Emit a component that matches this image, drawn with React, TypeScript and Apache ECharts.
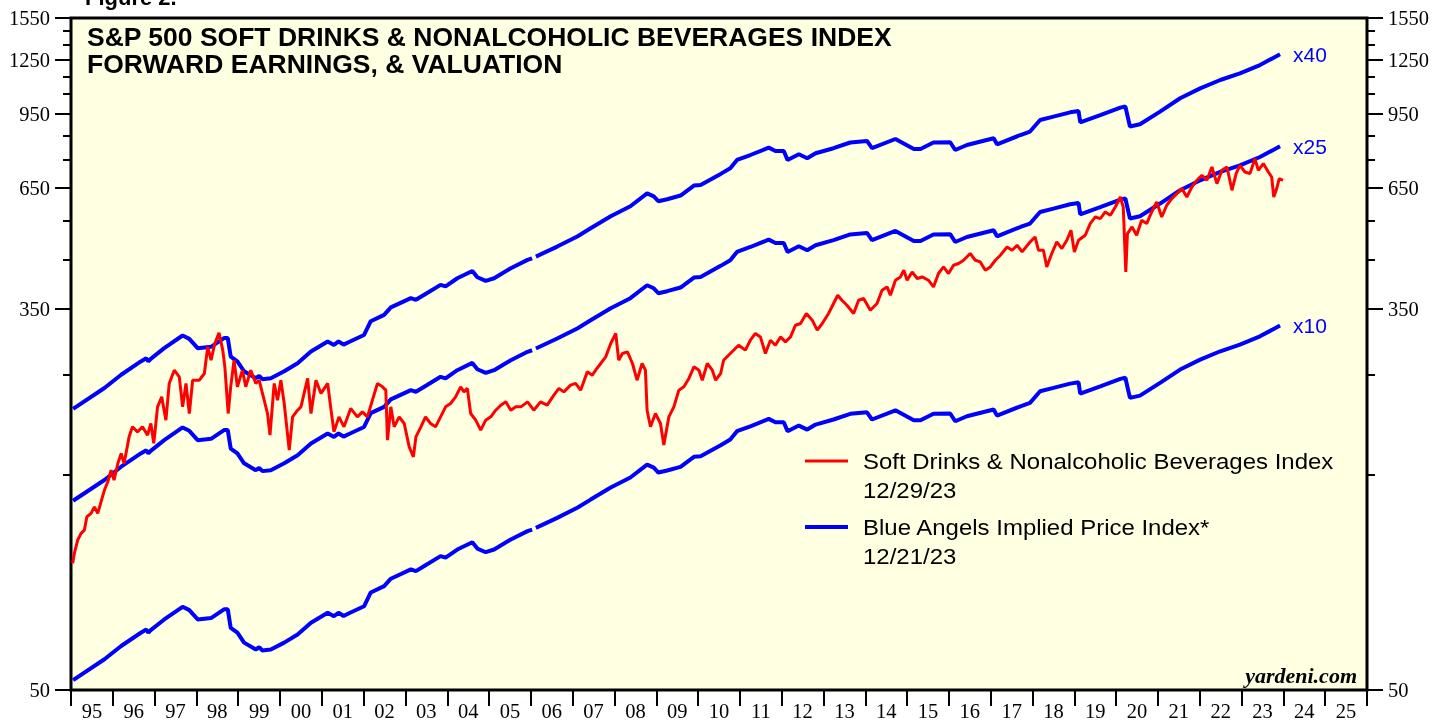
import React, { useEffect, useRef } from "react";
import * as echarts from "echarts";

// ---- tick labels / categories ----
const yearLabels = [
  "95", "96", "97", "98", "99", "00", "01", "02", "03", "04", "05", "06", "07", "08", "09", "10",
  "11", "12", "13", "14", "15", "16", "17", "18", "19", "20", "21", "22", "23", "24", "25",
];
const majorTicks = [50, 350, 650, 950, 1250, 1550];
const minorTicks = [50, 150, 250, 350, 450, 550, 650, 750, 850, 950, 1050, 1150, 1250, 1350, 1450, 1550];
const multiples = [40, 25, 10];

// ---- forward earnings (Blue Angels base), [year, earnings] ----
const forwardEarnings: [number, number | null][] = [
  [1995.05, 5.26], [1995.8, 5.85], [1996.2, 6.26], [1996.67, 6.7], [1996.8, 6.81], [1996.85, 6.7], [1996.9, 6.78],
  [1997.23, 7.17], [1997.67, 7.65], [1997.83, 7.52], [1998.03, 7.17], [1998.35, 7.22], [1998.66, 7.55], [1998.75, 7.55],
  [1998.82, 6.87], [1998.98, 6.7], [1999.14, 6.37], [1999.42, 6.15], [1999.5, 6.22], [1999.58, 6.12], [1999.78, 6.15],
  [2000.1, 6.37], [2000.42, 6.64], [2000.74, 7.05], [2001.14, 7.42], [2001.29, 7.29], [2001.4, 7.42], [2001.52, 7.3],
  [2001.65, 7.4], [2002.01, 7.67], [2002.17, 8.23], [2002.49, 8.5], [2002.65, 8.83], [2003.13, 9.26], [2003.25, 9.18],
  [2003.44, 9.41], [2003.84, 9.91], [2003.96, 9.83], [2004.24, 10.25], [2004.6, 10.64], [2004.72, 10.3], [2004.92, 10.11],
  [2005.12, 10.25], [2005.52, 10.79], [2005.92, 11.26], [2006.03, 11.35], [2006.07, null], [2006.12, 11.45],
  [2006.63, 12.05], [2007.11, 12.69], [2007.43, 13.23], [2007.91, 14.07], [2008.38, 14.81], [2008.78, 15.82],
  [2008.94, 15.58], [2009.05, 15.19], [2009.26, 15.35], [2009.58, 15.64], [2009.9, 16.46], [2010.06, 16.51],
  [2010.54, 17.47], [2010.77, 17.98], [2010.93, 18.76], [2011.25, 19.24], [2011.69, 19.98], [2011.85, 19.64],
  [2012.05, 19.64], [2012.14, 18.76], [2012.41, 19.31], [2012.61, 18.92], [2012.81, 19.41], [2013.24, 19.92],
  [2013.64, 20.51], [2014.04, 20.67], [2014.16, 19.92], [2014.72, 20.88], [2015.16, 19.84], [2015.32, 19.84],
  [2015.63, 20.51], [2016.03, 20.54], [2016.15, 19.74], [2016.43, 20.25], [2017.07, 20.96], [2017.15, 20.32],
  [2017.71, 21.31], [2017.94, 21.69], [2018.18, 23.01], [2018.5, 23.41], [2018.9, 23.93], [2019.1, 24.09],
  [2019.14, 22.74], [2019.62, 23.6], [2020.1, 24.51], [2020.22, 24.65], [2020.33, 22.25], [2020.57, 22.51],
  [2021.05, 24.02], [2021.53, 25.71], [2022.01, 27.05], [2022.49, 28.23], [2022.96, 29.21], [2023.44, 30.47],
  [2023.92, 32.19],
];

// ---- S&P 500 Soft Drinks & Nonalcoholic Beverages index, [year, level] ----
const indexData: [number, number][] = [
  [1995.04, 95.5], [1995.08, 100.5], [1995.16, 107.6], [1995.24, 111.3], [1995.32, 113.2], [1995.38, 121.2],
  [1995.48, 123.3], [1995.56, 127.5], [1995.64, 123.3], [1995.73, 131.9], [1995.8, 138.9], [1995.88, 144.9],
  [1995.96, 153.8], [1996.03, 146.1], [1996.12, 159.1], [1996.2, 167.5], [1996.27, 159.1], [1996.39, 182.3],
  [1996.47, 191.9], [1996.59, 187.0], [1996.71, 191.9], [1996.83, 183.9], [1996.91, 195.2], [1996.98, 176.3],
  [1997.07, 212.5], [1997.17, 223.6], [1997.27, 198.5], [1997.35, 239.5], [1997.47, 256.3], [1997.59, 247.7],
  [1997.67, 212.5], [1997.75, 239.5], [1997.83, 205.4], [1997.91, 243.5], [1998.07, 243.5], [1998.19, 252.0],
  [1998.27, 288.7], [1998.35, 269.7], [1998.44, 293.7], [1998.54, 310.1], [1998.63, 283.9], [1998.68, 260.7],
  [1998.76, 205.4], [1998.82, 235.4], [1998.9, 269.7], [1998.98, 235.4], [1999.1, 256.3], [1999.18, 235.4],
  [1999.3, 256.3], [1999.42, 239.5], [1999.5, 243.5], [1999.58, 227.6], [1999.7, 205.4], [1999.76, 183.9],
  [1999.86, 239.5], [1999.94, 219.9], [2000.02, 243.5], [2000.1, 216.2], [2000.22, 170.3], [2000.3, 201.9],
  [2000.42, 208.9], [2000.5, 212.5], [2000.66, 245.7], [2000.74, 205.4], [2000.86, 243.5], [2000.98, 227.6],
  [2001.14, 239.5], [2001.21, 212.5], [2001.29, 187.0], [2001.41, 201.9], [2001.53, 191.9], [2001.69, 210.8],
  [2001.85, 201.9], [2001.97, 207.1], [2002.09, 201.9], [2002.21, 219.9], [2002.33, 239.5], [2002.45, 235.4],
  [2002.53, 231.4], [2002.57, 179.3], [2002.65, 212.5], [2002.73, 191.9], [2002.85, 201.9], [2002.97, 195.2],
  [2003.09, 173.2], [2003.19, 164.6], [2003.25, 182.3], [2003.37, 191.9], [2003.48, 201.9], [2003.6, 195.2],
  [2003.72, 191.9], [2003.84, 201.9], [2003.96, 212.5], [2004.08, 216.2], [2004.2, 223.6], [2004.32, 235.4],
  [2004.4, 229.4], [2004.48, 233.5], [2004.56, 205.4], [2004.68, 198.5], [2004.8, 188.6], [2004.92, 198.5],
  [2005.04, 201.9], [2005.16, 208.9], [2005.28, 214.3], [2005.4, 218.0], [2005.52, 208.9], [2005.64, 212.5],
  [2005.76, 212.5], [2005.92, 218.0], [2006.07, 208.9], [2006.23, 218.0], [2006.39, 214.3], [2006.55, 225.6],
  [2006.67, 233.5], [2006.79, 229.4], [2006.95, 237.4], [2007.07, 239.5], [2007.19, 231.4], [2007.35, 254.1],
  [2007.47, 249.8], [2007.55, 256.3], [2007.67, 265.2], [2007.79, 274.3], [2007.91, 293.7], [2008.03, 309.2],
  [2008.1, 269.7], [2008.19, 279.1], [2008.31, 281.4], [2008.43, 265.2], [2008.54, 243.5], [2008.66, 265.2],
  [2008.74, 256.3], [2008.78, 208.9], [2008.86, 191.9], [2008.98, 205.4], [2009.1, 195.2], [2009.18, 174.8],
  [2009.3, 201.9], [2009.42, 212.5], [2009.54, 231.4], [2009.66, 235.4], [2009.78, 245.7], [2009.9, 260.7],
  [2010.02, 256.3], [2010.1, 243.5], [2010.22, 265.2], [2010.34, 256.3], [2010.42, 243.5], [2010.54, 252.0],
  [2010.61, 269.7], [2010.77, 279.1], [2010.97, 291.2], [2011.13, 283.9], [2011.25, 298.7], [2011.37, 309.2],
  [2011.49, 303.8], [2011.61, 279.1], [2011.73, 298.7], [2011.85, 291.2], [2011.97, 303.8], [2012.09, 296.2],
  [2012.21, 303.8], [2012.33, 322.5], [2012.45, 325.3], [2012.59, 342.4], [2012.73, 330.9], [2012.85, 314.4],
  [2012.97, 325.3], [2013.12, 342.4], [2013.24, 360.3], [2013.34, 375.9], [2013.44, 366.4], [2013.56, 357.2],
  [2013.72, 342.4], [2013.84, 366.4], [2013.96, 369.6], [2014.12, 348.2], [2014.28, 360.3], [2014.4, 385.7],
  [2014.52, 392.2], [2014.6, 375.9], [2014.72, 405.9], [2014.84, 412.7], [2014.92, 427.1], [2015.0, 405.9],
  [2015.12, 423.4], [2015.24, 409.4], [2015.36, 412.7], [2015.51, 405.9], [2015.63, 392.2], [2015.75, 420.0],
  [2015.87, 434.4], [2015.99, 420.0], [2016.11, 438.2], [2016.23, 442.0], [2016.35, 449.5], [2016.51, 465.2],
  [2016.63, 449.5], [2016.75, 445.6], [2016.87, 427.1], [2016.99, 434.4], [2017.11, 449.5], [2017.23, 461.1],
  [2017.39, 481.1], [2017.51, 473.1], [2017.63, 485.3], [2017.75, 469.0], [2017.94, 493.5], [2018.06, 506.3],
  [2018.14, 473.1], [2018.26, 473.1], [2018.34, 434.4], [2018.46, 465.2], [2018.58, 493.5], [2018.7, 477.1],
  [2018.82, 497.9], [2018.92, 523.9], [2019.0, 469.0], [2019.1, 497.9], [2019.26, 510.8], [2019.38, 542.2],
  [2019.5, 560.8], [2019.62, 556.2], [2019.74, 575.3], [2019.86, 565.6], [2019.98, 590.1], [2020.1, 621.0],
  [2020.17, 590.1], [2020.23, 423.4], [2020.27, 515.2], [2020.38, 532.8], [2020.49, 510.8], [2020.61, 551.4],
  [2020.73, 542.2], [2020.85, 575.3], [2020.97, 605.4], [2021.09, 560.8], [2021.21, 595.3], [2021.33, 616.0],
  [2021.45, 631.9], [2021.57, 648.3], [2021.69, 621.0], [2021.81, 653.6], [2021.93, 676.3], [2022.05, 693.8],
  [2022.17, 676.3], [2022.29, 723.9], [2022.41, 665.0], [2022.53, 711.8], [2022.65, 723.9], [2022.77, 642.7],
  [2022.87, 699.8], [2022.96, 730.2], [2023.08, 705.6], [2023.2, 699.8], [2023.32, 755.6], [2023.4, 711.8],
  [2023.52, 736.6], [2023.64, 705.6], [2023.72, 687.9], [2023.77, 621.0], [2023.84, 648.3], [2023.9, 682.2],
  [2023.99, 676.3],
];

const titleText = "S&P 500 SOFT DRINKS & NONALCOHOLIC BEVERAGES INDEX\nFORWARD EARNINGS, & VALUATION";
const legendRed = "Soft Drinks & Nonalcoholic Beverages Index";
const legendRedDate = "12/29/23";
const legendBlue = "Blue Angels Implied Price Index*";
const legendBlueDate = "12/21/23";

export default function App() {
  const ref = useRef<HTMLDivElement>(null);

  useEffect(() => {
    if (!ref.current) return;
    const chart = echarts.init(ref.current, null, { renderer: "svg" });
    const L = Math.log;
    const yMin = L(50);
    const yMax = L(1550);
    const serif = '"Liberation Serif", "Times New Roman", serif';
    const sans = '"Liberation Sans", Arial, sans-serif';

    const yAxis = (position: string, ticks: number[], len: number, labels: boolean) => ({
      type: "value",
      position,
      min: yMin,
      max: yMax,
      splitLine: { show: false },
      axisLine: { show: false },
      axisTick: {
        show: true,
        length: len,
        customValues: ticks.map(L),
        lineStyle: { color: "#000", width: 2 },
      },
      axisLabel: labels
        ? {
            show: true,
            customValues: ticks.map(L),
            formatter: (v: number) => String(Math.round(Math.exp(v))),
            fontFamily: serif,
            fontSize: 20.5,
            color: "#000",
            margin: 21,
          }
        : { show: false },
    });

    const blueSeries = multiples.map((m) => ({
      type: "line",
      name: "x" + m,
      xAxisIndex: 0,
      yAxisIndex: 0,
      data: forwardEarnings.map(([x, e]) => [x, e == null ? "-" : L(e * m)]),
      symbol: "none",
      showSymbol: false,
      connectNulls: false,
      lineStyle: { color: "#0000FF", width: 4 },
      itemStyle: { color: "#0000FF" },
      endLabel: {
        show: true,
        formatter: "x" + m,
        color: "#0000FF",
        fontSize: 21,
        fontFamily: sans,
        distance: 13,
      },
      silent: true,
      z: 2,
    }));

    chart.setOption({
      animation: false,
      grid: {
        left: 71,
        right: 67,
        top: 18,
        bottom: 31,
        show: true,
        backgroundColor: "#FFFFE1",
        borderColor: "#000",
        borderWidth: 3,
        containLabel: false,
        outerBoundsMode: "none",
      },
      xAxis: [
        { type: "value", min: 1995, max: 2026, show: false, position: "bottom" },
        {
          type: "category",
          position: "bottom",
          data: yearLabels,
          boundaryGap: true,
          axisLine: { show: false },
          axisTick: { show: true, length: 16, interval: 0, lineStyle: { color: "#000", width: 2 } },
          axisLabel: { interval: 0, fontFamily: serif, fontSize: 20.5, color: "#000", margin: 10 },
          splitLine: { show: false },
        },
      ],
      yAxis: [
        yAxis("left", majorTicks, 16, true),
        yAxis("left", minorTicks, 8, false),
        yAxis("right", majorTicks, 16, true),
        yAxis("right", minorTicks, 8, false),
      ],
      series: [
        ...blueSeries,
        {
          type: "line",
          name: "index",
          xAxisIndex: 0,
          yAxisIndex: 0,
          data: indexData.map(([x, v]) => [x, L(v)]),
          symbol: "none",
          showSymbol: false,
          lineStyle: { color: "#FF0000", width: 3 },
          itemStyle: { color: "#FF0000" },
          silent: true,
          z: 3,
        },
      ],
      graphic: [
        {
          type: "text",
          x: 85,
          y: -3,
          style: { text: "Figure 2.", font: `bold 22px ${sans}`, fill: "#000", verticalAlign: "middle" },
        },
        {
          type: "text",
          x: 87,
          y: 24,
          scaleX: 1.06,
          style: { text: titleText, font: `bold 25px ${sans}`, lineHeight: 27, fill: "#000", verticalAlign: "top" },
          z: 10,
        },
        {
          type: "line",
          shape: { x1: 805, y1: 461, x2: 848, y2: 461 },
          style: { stroke: "#FF0000", lineWidth: 3 },
          z: 10,
        },
        {
          type: "line",
          shape: { x1: 805, y1: 527, x2: 848, y2: 527 },
          style: { stroke: "#0000FF", lineWidth: 4 },
          z: 10,
        },
        {
          type: "text",
          x: 863,
          y: 461,
          scaleX: 1.09,
          style: { text: legendRed, font: `22px ${sans}`, fill: "#000", verticalAlign: "middle" },
          z: 10,
        },
        {
          type: "text",
          x: 863,
          y: 490,
          scaleX: 1.09,
          style: { text: legendRedDate, font: `22px ${sans}`, fill: "#000", verticalAlign: "middle" },
          z: 10,
        },
        {
          type: "text",
          x: 863,
          y: 527,
          scaleX: 1.09,
          style: { text: legendBlue, font: `22px ${sans}`, fill: "#000", verticalAlign: "middle" },
          z: 10,
        },
        {
          type: "text",
          x: 863,
          y: 556,
          scaleX: 1.09,
          style: { text: legendBlueDate, font: `22px ${sans}`, fill: "#000", verticalAlign: "middle" },
          z: 10,
        },
        {
          type: "text",
          x: 1357,
          y: 675,
          style: {
            text: "yardeni.com",
            font: `italic bold 22px ${serif}`,
            fill: "#000",
            align: "right",
            verticalAlign: "middle",
          },
          z: 10,
        },
      ],
    });

    return () => chart.dispose();
  }, []);

  return (
    <div
      ref={ref}
      style={{ position: "fixed", left: 0, top: 0, width: 1434, height: 721 }}
    />
  );
}
